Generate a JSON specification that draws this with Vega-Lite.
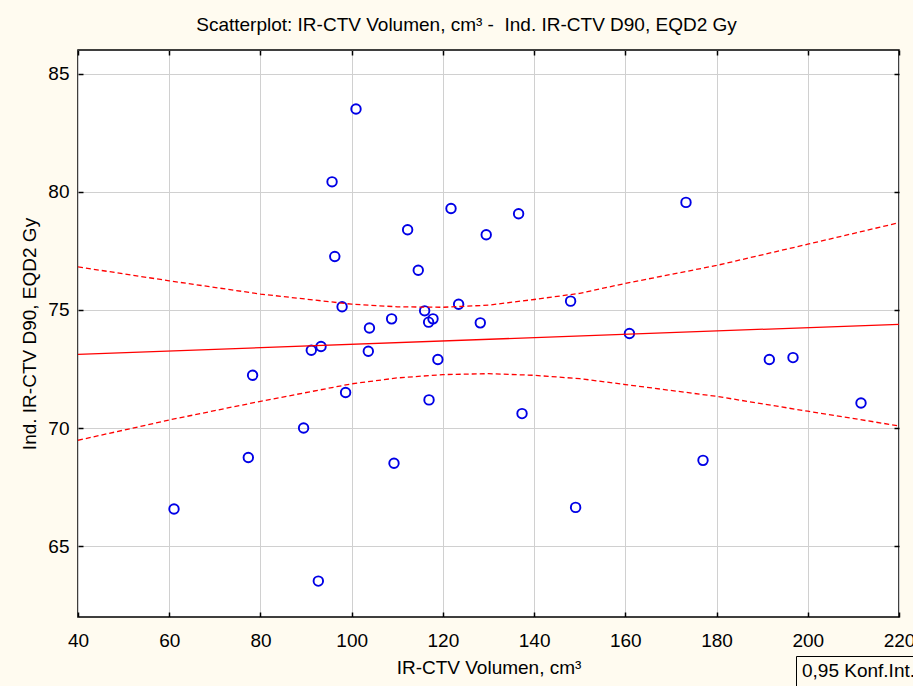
{
  "$schema": "https://vega.github.io/schema/vega-lite/v6.json",
  "width": 821,
  "height": 567,
  "autosize": "none",
  "padding": {"left": 78, "top": 50, "right": 14, "bottom": 69},
  "background": "#FFFBF0",
  "title": {
    "text": "Scatterplot: IR-CTV Volumen, cm³ -\u00a0 Ind. IR-CTV D90, EQD2 Gy",
    "font": "Liberation Sans, Arial, sans-serif",
    "fontSize": 19,
    "fontWeight": "normal",
    "color": "#000000",
    "anchor": "middle",
    "offset": 14,
    "dx": -22
  },
  "config": {
    "view": {"stroke": "#000000", "strokeWidth": 1.5, "fill": "#FFFFFF"},
    "axis": {
      "labelFont": "Liberation Sans, Arial, sans-serif",
      "titleFont": "Liberation Sans, Arial, sans-serif",
      "labelFontSize": 19,
      "titleFontSize": 19,
      "titleFontWeight": "normal",
      "labelColor": "#000000",
      "titleColor": "#000000",
      "domain": false,
      "tickColor": "#000000",
      "tickSize": -5,
      "tickWidth": 1.5,
      "gridColor": "#d0d0d0",
      "gridWidth": 1
    },
    "legend": {
      "labelFont": "Liberation Sans, Arial, sans-serif",
      "labelFontSize": 19,
      "labelColor": "#000000"
    }
  },
  "datasets": {
    "points": [
      {"vol": 95.7, "d90": 80.42}, {"vol": 96.3, "d90": 77.26}, {"vol": 97.9, "d90": 75.13},
      {"vol": 100.95, "d90": 83.5}, {"vol": 121.78, "d90": 79.29}, {"vol": 136.6, "d90": 79.07},
      {"vol": 112.27, "d90": 78.39}, {"vol": 129.5, "d90": 78.18}, {"vol": 114.6, "d90": 76.68},
      {"vol": 123.45, "d90": 75.24}, {"vol": 148.0, "d90": 75.37}, {"vol": 116.0, "d90": 74.96},
      {"vol": 108.76, "d90": 74.62}, {"vol": 117.83, "d90": 74.62}, {"vol": 116.87, "d90": 74.48},
      {"vol": 128.2, "d90": 74.45}, {"vol": 103.9, "d90": 74.23}, {"vol": 103.65, "d90": 73.25},
      {"vol": 118.9, "d90": 72.9}, {"vol": 116.96, "d90": 71.19}, {"vol": 137.35, "d90": 70.61},
      {"vol": 109.28, "d90": 68.51}, {"vol": 149.1, "d90": 66.64}, {"vol": 160.9, "d90": 74.0},
      {"vol": 91.15, "d90": 73.29}, {"vol": 93.28, "d90": 73.45}, {"vol": 78.28, "d90": 72.23},
      {"vol": 98.67, "d90": 71.5}, {"vol": 89.46, "d90": 70.0}, {"vol": 77.34, "d90": 68.75},
      {"vol": 61.05, "d90": 66.57}, {"vol": 92.69, "d90": 63.52}, {"vol": 191.57, "d90": 72.9},
      {"vol": 196.76, "d90": 72.98}, {"vol": 211.67, "d90": 71.06}, {"vol": 177.03, "d90": 68.63},
      {"vol": 173.3, "d90": 79.55}
    ],
    "fit": [
      {"vol": 40, "d90": 73.12}, {"vol": 220, "d90": 74.39}
    ],
    "band": [
      {"vol": 40, "d90": 76.82, "side": "upper", "ci": "0,95 Konf.Int."},
      {"vol": 60, "d90": 76.23, "side": "upper", "ci": "0,95 Konf.Int."},
      {"vol": 80, "d90": 75.67, "side": "upper", "ci": "0,95 Konf.Int."},
      {"vol": 100, "d90": 75.24, "side": "upper", "ci": "0,95 Konf.Int."},
      {"vol": 110, "d90": 75.13, "side": "upper", "ci": "0,95 Konf.Int."},
      {"vol": 120, "d90": 75.11, "side": "upper", "ci": "0,95 Konf.Int."},
      {"vol": 130, "d90": 75.2, "side": "upper", "ci": "0,95 Konf.Int."},
      {"vol": 140, "d90": 75.44, "side": "upper", "ci": "0,95 Konf.Int."},
      {"vol": 150, "d90": 75.7, "side": "upper", "ci": "0,95 Konf.Int."},
      {"vol": 160, "d90": 76.12, "side": "upper", "ci": "0,95 Konf.Int."},
      {"vol": 180, "d90": 76.88, "side": "upper", "ci": "0,95 Konf.Int."},
      {"vol": 200, "d90": 77.78, "side": "upper", "ci": "0,95 Konf.Int."},
      {"vol": 220, "d90": 78.69, "side": "upper", "ci": "0,95 Konf.Int."},
      {"vol": 40, "d90": 69.48, "side": "lower", "ci": "0,95 Konf.Int."},
      {"vol": 60, "d90": 70.34, "side": "lower", "ci": "0,95 Konf.Int."},
      {"vol": 80, "d90": 71.13, "side": "lower", "ci": "0,95 Konf.Int."},
      {"vol": 100, "d90": 71.87, "side": "lower", "ci": "0,95 Konf.Int."},
      {"vol": 110, "d90": 72.12, "side": "lower", "ci": "0,95 Konf.Int."},
      {"vol": 120, "d90": 72.26, "side": "lower", "ci": "0,95 Konf.Int."},
      {"vol": 130, "d90": 72.3, "side": "lower", "ci": "0,95 Konf.Int."},
      {"vol": 140, "d90": 72.23, "side": "lower", "ci": "0,95 Konf.Int."},
      {"vol": 150, "d90": 72.09, "side": "lower", "ci": "0,95 Konf.Int."},
      {"vol": 160, "d90": 71.84, "side": "lower", "ci": "0,95 Konf.Int."},
      {"vol": 180, "d90": 71.34, "side": "lower", "ci": "0,95 Konf.Int."},
      {"vol": 200, "d90": 70.71, "side": "lower", "ci": "0,95 Konf.Int."},
      {"vol": 220, "d90": 70.09, "side": "lower", "ci": "0,95 Konf.Int."}
    ]
  },
  "layer": [
    {
      "data": {"name": "points"},
      "mark": {"type": "point", "shape": "circle", "filled": false, "color": "#0000E6", "strokeWidth": 1.9, "size": 90, "opacity": 1, "clip": true},
      "encoding": {
        "x": {
          "field": "vol", "type": "quantitative",
          "scale": {"domain": [40, 220], "nice": false, "zero": false},
          "axis": {"orient": "bottom", "values": [40, 60, 80, 100, 120, 140, 160, 180, 200, 220], "title": "IR-CTV Volumen, cm³", "labelPadding": 19, "titlePadding": 8, "labelFlush": false, "labelOverlap": false}
        },
        "y": {
          "field": "d90", "type": "quantitative",
          "scale": {"domain": [62, 86], "nice": false, "zero": false},
          "axis": {"orient": "left", "values": [65, 70, 75, 80, 85], "title": "Ind. IR-CTV D90, EQD2 Gy", "labelPadding": 14, "titlePadding": 8, "labelFlush": false}
        }
      }
    },
    {
      "data": {"name": "fit"},
      "mark": {"type": "line", "color": "#FF0000", "strokeWidth": 1.3, "clip": true},
      "encoding": {
        "x": {
          "field": "vol", "type": "quantitative",
          "axis": {"orient": "top", "values": [40, 60, 80, 100, 120, 140, 160, 180, 200, 220], "labels": false, "grid": false, "title": null}
        },
        "y": {
          "field": "d90", "type": "quantitative",
          "axis": {"orient": "right", "values": [65, 70, 75, 80, 85], "labels": false, "grid": false, "title": null}
        }
      }
    },
    {
      "data": {"name": "band"},
      "mark": {"type": "line", "color": "#FF0000", "strokeWidth": 1.3, "clip": true},
      "encoding": {
        "x": {"field": "vol", "type": "quantitative", "axis": null},
        "y": {"field": "d90", "type": "quantitative", "axis": null},
        "detail": {"field": "side"},
        "strokeDash": {
          "field": "ci", "type": "nominal",
          "scale": {"range": [[5, 3]]},
          "legend": {
            "orient": "none", "legendX": 718, "legendY": 606,
            "title": null, "strokeColor": "#000000", "fillColor": "#FFFBF0",
            "padding": 5, "symbolSize": 0, "symbolStrokeWidth": 0, "symbolOpacity": 0,
            "labelOffset": -18, "labelLimit": 300
          }
        }
      }
    }
  ],
  "resolve": {"axis": {"x": "independent", "y": "independent"}}
}
